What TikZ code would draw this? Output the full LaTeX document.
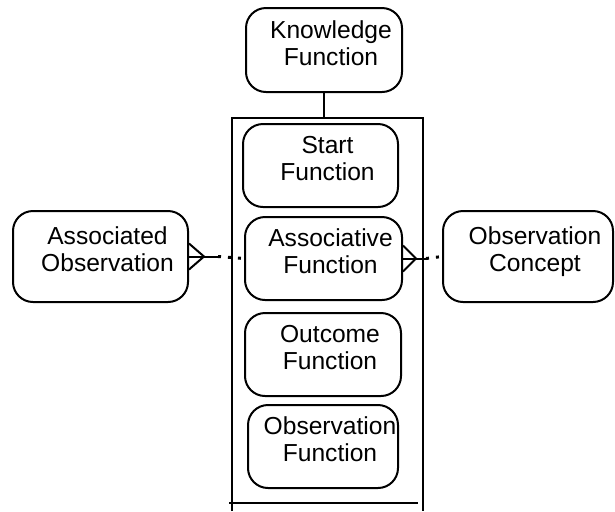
\documentclass[tikz,border=0pt]{standalone}
\usepackage{fontspec}
\setmainfont{Liberation Sans}
\usepackage{tikz}
\usetikzlibrary{calc}

\newcommand\twoline[2]{\raisebox{1.8pt}[\height][\depth]{\hspace*{7pt}\begin{tabular}{@{}c@{}}#1\\#2\end{tabular}}}

\tikzset{
  fbox/.style={draw,rounded corners=10pt,line width=1pt,inner sep=0pt,
    font=\fontsize{12.3}{13.5}\selectfont},
  frame/.style={line width=0.8pt},
  rel/.style={line width=1pt},
  reldot/.style={line width=1.5pt,dash pattern=on 1.5pt off 3.5pt}
}

\begin{document}
\begin{tikzpicture}[x=0.5pt,y=-0.5pt]
\useasboundingbox (0,0) rectangle (615,511);
\path
(324,50)      node[fbox,minimum width=78pt,minimum height=42pt] (kf) {\twoline{Knowledge}{Function}}
(320.5,165.5) node[fbox,minimum width=77.5pt,minimum height=41.5pt] (sf) {\twoline{Start}{Function}}
(323.5,258.5) node[fbox,minimum width=78.5pt,minimum height=41.5pt] (af) {\twoline{Associative}{Function}}
(323,354.5)   node[fbox,minimum width=78pt,minimum height=41.5pt] (of) {\twoline{Outcome}{Function}}
(323,446.5)   node[fbox,minimum width=75pt,minimum height=41.5pt] (obf) {\twoline{Observation}{Function}}
(100.5,256.5) node[fbox,minimum width=87.5pt,minimum height=45.5pt] (ao) {\twoline{Associated}{Observation}}
(528,256.5)   node[fbox,minimum width=85pt,minimum height=45.5pt] (oc) {\twoline{Observation}{Concept}};
% frame round the functions
\coordinate (ftl) at (232,118);
\coordinate (ftr) at (423,118);
\draw[frame] (232,511) -- (ftl) -- (ftr) -- (423,511);
\draw[frame] (229,503) -- (418,503);
\draw[frame] (kf.south) -- (kf.south |- ftl);
% associated observation, many end at ao
\coordinate (ml) at ($(ao.east)+(29,0)$);
\draw[rel] (ao.east) -- (ml);
\draw[reldot] (ml) -- (af.west);
\draw[rel] ($(ao.east)+(0,-13)$) -- ($(ao.east)+(15,0)$) -- ($(ao.east)+(0,13)$);
% observation concept, many end at af
\coordinate (mr) at ($(af.east)+(23,0)$);
\draw[rel] (af.east) -- (mr);
\draw[reldot] (mr) -- (oc.west);
\draw[rel] ($(af.east)+(0,-13)$) -- ($(af.east)+(13,0)$) -- ($(af.east)+(0,13)$);
\end{tikzpicture}
\end{document}
